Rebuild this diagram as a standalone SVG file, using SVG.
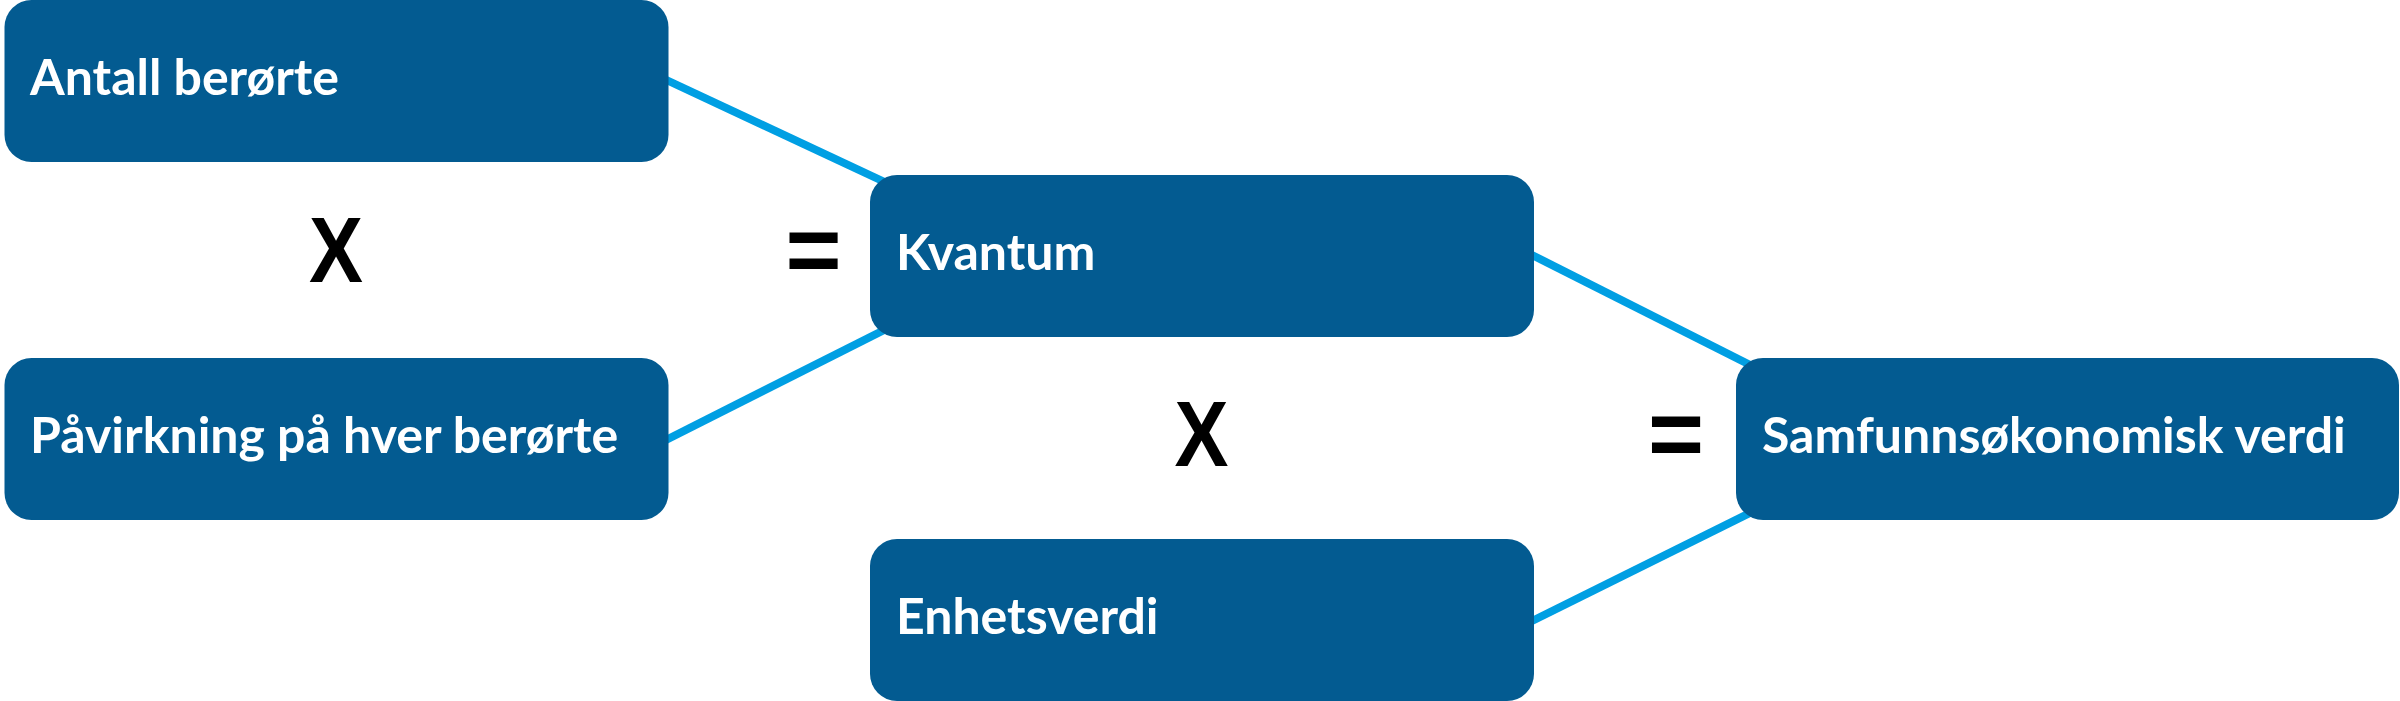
<svg xmlns="http://www.w3.org/2000/svg" width="2400" height="701" viewBox="0 0 2400 701">
<style>
.box{fill:#035B91;}
.lbl{font-family:Lato,"Open Sans","Liberation Sans",sans-serif;font-weight:700;font-size:50px;fill:#ffffff;}
.op{font-family:"Liberation Sans",Arial,sans-serif;font-weight:700;fill:#000000;}
.conn{stroke:#009FE3;stroke-width:8;fill:none;}
</style>
<rect width="2400" height="701" fill="#ffffff"/>
<g id="connectors">
<line class="conn" x1="660" y1="77" x2="906" y2="192"/>
<line class="conn" x1="660" y1="443" x2="906" y2="319"/>
<line class="conn" x1="1526" y1="252" x2="1772" y2="376"/>
<line class="conn" x1="1526" y1="624" x2="1772" y2="502"/>
</g>
<g id="antall">
<rect class="box" x="4.5" y="0" width="664" height="162" rx="27"/>
<text class="lbl" x="30" y="95">Antall berørte</text>
</g>
<g id="pavirkning">
<rect class="box" x="4.5" y="358" width="664" height="162" rx="27"/>
<text class="lbl" x="30" y="453">Påvirkning på hver berørte</text>
</g>
<g id="kvantum">
<rect class="box" x="870" y="175" width="664" height="162" rx="27"/>
<text class="lbl" x="896" y="270">Kvantum</text>
</g>
<g id="enhetsverdi">
<rect class="box" x="870" y="539" width="664" height="162" rx="27"/>
<text class="lbl" x="896" y="634">Enhetsverdi</text>
</g>
<g id="samfunn">
<rect class="box" x="1736" y="358" width="663" height="162" rx="27"/>
<text class="lbl" x="1762" y="453">Samfunnsøkonomisk verdi</text>
</g>
<g id="operators">
<text class="op" font-size="93" text-anchor="middle" transform="translate(336,282) scale(0.87,1)">X</text>
<text class="op" font-size="93" text-anchor="middle" transform="translate(1201.5,466) scale(0.87,1)">X</text>
<text class="op" font-size="96" text-anchor="middle" x="813.5" y="283">=</text>
<text class="op" font-size="96" text-anchor="middle" x="1676" y="467">=</text>
</g>
</svg>
